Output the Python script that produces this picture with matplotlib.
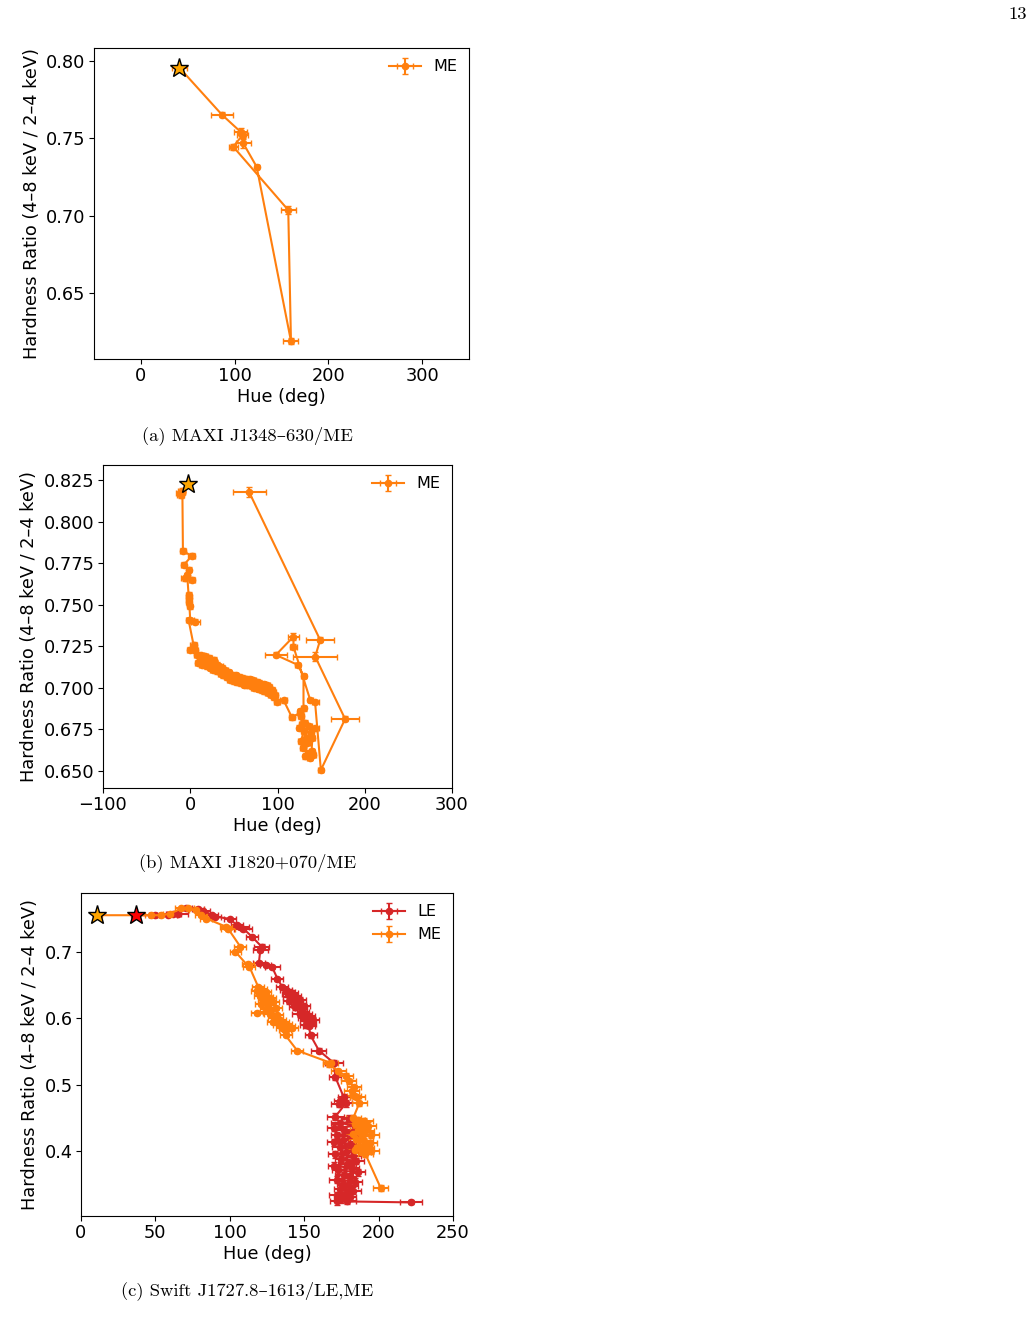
import matplotlib

matplotlib.use("Agg")
import matplotlib.pyplot as plt

# (a) MAXI J1348-630 / ME
a_hue = [41, 86.4, 106.7, 108.5, 98.5, 157.2, 160.1, 123.5, 109.2]
a_hr = [0.7957, 0.7653, 0.7540, 0.7521, 0.7446, 0.7036, 0.6189, 0.7316, 0.7468]
a_hue_err = [8, 11.5, 7, 6, 5, 8, 8, 2, 8]
a_hr_err = [0.0015, 0.0015, 0.0025, 0.002, 0.002, 0.0025, 0.002, 0.001, 0.003]

# (b) MAXI J1820+070 / ME
b_hue = [-3, -10, -12, -9, -11, -9, -8.4, 1.9, -7.6, -1.9, -5.7, 1.9, -3.5,
         -1.9, -1.9, -0.8, -1.5, 0, 5.7, -2, 3.8, 0,
         7.6, 5, 11, 9, 12, 15.3, 13, 17, 19.1, 21, 22, 24.8, 23, 27, 26, 30.5,
         28, 31, 33, 35, 36.3, 38, 40, 42, 44, 45, 47.8, 50, 52, 53.5, 56, 58,
         59.2, 62, 64, 65, 68, 70.7, 72, 73, 76.4, 78, 79, 82.1, 84, 85, 87.9,
         89, 90, 93.6, 92, 95, 96, 97.4, 99.3, 106.9,
         116.5, 126, 128, 125, 130, 127, 133, 129, 134, 132, 137, 135.5, 141.2,
         139, 140, 138, 143.2, 136, 131, 127, 126, 129.8,
         129.8, 123.3, 98.1, 118.3, 118.3, 137.5, 143, 149.7, 177.5, 143.2,
         148.9, 67.6]
b_hr = [0.8225, 0.8185, 0.8170, 0.8180, 0.8160, 0.8175, 0.7823, 0.7793, 0.7739,
        0.7709, 0.7660, 0.7649, 0.7680, 0.7558, 0.7518, 0.7490, 0.7540, 0.7408,
        0.7398, 0.7410, 0.7258, 0.7228,
        0.7198, 0.7225, 0.7170, 0.7150, 0.7195, 0.7175, 0.7140, 0.7190, 0.7130,
        0.7180, 0.7150, 0.7160, 0.7120, 0.7170, 0.7110, 0.7140, 0.7150, 0.7100,
        0.7130, 0.7085, 0.7120, 0.7075, 0.7105, 0.7065, 0.7095, 0.7050, 0.7080,
        0.7040, 0.7075, 0.7035, 0.7068, 0.7028, 0.7062, 0.7020, 0.7055, 0.7015,
        0.7052, 0.7010, 0.7045, 0.7000, 0.7038, 0.6995, 0.7030, 0.6985, 0.7022,
        0.6980, 0.7015, 0.6970, 0.7008, 0.6990, 0.6960, 0.6975, 0.6945, 0.6957,
        0.6917, 0.6927,
        0.6823, 0.6850, 0.6780, 0.6760, 0.6740, 0.6680, 0.6700, 0.6640, 0.6670,
        0.6590, 0.6580, 0.6607, 0.6597, 0.6620, 0.6700, 0.6730, 0.6757, 0.6770,
        0.6790, 0.6830, 0.6860, 0.6877,
        0.7072, 0.7138, 0.7198, 0.7308, 0.7248, 0.6927, 0.6917, 0.6506, 0.6813,
        0.7188, 0.7288, 0.8176]
b_hue_err = [3, 4, 4, 3, 4, 3, 3, 4, 3, 3, 5, 3, 3, 3, 3, 3, 3, 4, 5, 3, 4, 4,
             3, 4, 3, 3, 4, 4, 3, 3, 3, 4, 3, 4, 3, 3, 3, 3, 3, 3, 4, 3, 3, 3,
             3, 3, 3, 3, 3, 3, 3, 3, 3, 3, 3, 3, 3, 3, 3, 3, 3, 3, 3, 3, 3, 3,
             3, 3, 3, 3, 4, 3, 3, 3, 3, 3, 3, 4,
             3, 3, 3, 3, 3, 3, 3, 3, 3, 3, 3, 3, 3, 3, 3, 3, 4, 3, 3, 3, 3, 3,
             3, 3, 12.8, 6, 4, 3, 4, 3, 15.7, 25, 16.4, 19]
b_hr_err = [0.001, 0.0015, 0.0015, 0.001, 0.002, 0.001, 0.0015, 0.0015, 0.0015,
            0.0015, 0.0015, 0.0015, 0.001, 0.002, 0.002, 0.0015, 0.0015, 0.0015,
            0.0015, 0.001, 0.0015, 0.0015,
            0.0015, 0.0015, 0.0015, 0.0015, 0.0015, 0.0015, 0.0015, 0.0015,
            0.0015, 0.0015, 0.0015, 0.0015, 0.0015, 0.0015, 0.0015, 0.0015,
            0.0015, 0.0015, 0.0015, 0.0015, 0.0015, 0.0015, 0.0015, 0.0015,
            0.0015, 0.0015, 0.0015, 0.0015, 0.0015, 0.0015, 0.0015, 0.0015,
            0.0015, 0.0015, 0.0015, 0.0015, 0.0015, 0.0015, 0.0015, 0.0015,
            0.0015, 0.0015, 0.0015, 0.0015, 0.0015, 0.0015, 0.0015, 0.0015,
            0.0015, 0.0015, 0.0015, 0.0015, 0.0015, 0.0015, 0.0015, 0.0015,
            0.0015, 0.0015, 0.0015, 0.0015, 0.0015, 0.0015, 0.0015, 0.0015,
            0.0015, 0.0015, 0.0015, 0.0015, 0.0015, 0.0015, 0.0015, 0.0015,
            0.0015, 0.0015, 0.0015, 0.0015, 0.0015, 0.0015,
            0.001, 0.001, 0.0015, 0.002, 0.0015, 0.001, 0.001, 0.001, 0.0015,
            0.0025, 0.0015, 0.003]

# (c) Swift J1727.8-1613 / LE
c_le_hue = [36.9, 50, 58.3, 62, 65, 70.7, 78.6, 82, 88, 90, 100, 105, 106.8,
            109, 115, 121.4, 120.5, 119.5, 124, 128.5, 132, 135.2,
            137.6, 140, 139, 142, 141, 144, 143, 140, 145, 147, 146, 144, 148,
            150, 149, 147, 151, 153, 150, 152, 155.7, 154, 151, 153,
            154.3, 159.9, 169.8, 171, 176.6, 174, 173.2, 178,
            171, 180, 184, 174, 186, 170, 177, 183, 172, 185, 176, 170, 181,
            174, 187, 178, 171, 183, 175, 185, 179, 170, 182, 173, 186, 177,
            181, 172, 184, 176, 180, 174, 183, 178, 172, 181, 175, 179, 172.3,
            221.6]
c_le_hr = [0.7555, 0.7555, 0.7560, 0.7575, 0.7580, 0.7660, 0.7650, 0.7626,
           0.7560, 0.7535, 0.7500, 0.7400, 0.7380, 0.7354, 0.7230, 0.7080,
           0.7030, 0.6830, 0.6810, 0.6770, 0.6600, 0.6475,
           0.6420, 0.6400, 0.6360, 0.6380, 0.6320, 0.6340, 0.6280, 0.6260,
           0.6240, 0.6280, 0.6200, 0.6170, 0.6150, 0.6180, 0.6100, 0.6060,
           0.6060, 0.6030, 0.6000, 0.5960, 0.5980, 0.5920, 0.5900, 0.5890,
           0.5742, 0.5515, 0.5330, 0.5110, 0.4810, 0.4760, 0.4707, 0.4720,
           0.4520, 0.4490, 0.4450, 0.4420, 0.4380, 0.4350, 0.4310, 0.4280,
           0.4240, 0.4210, 0.4170, 0.4130, 0.4100, 0.4060, 0.4030, 0.3990,
           0.3950, 0.3920, 0.3880, 0.3850, 0.3810, 0.3780, 0.3740, 0.3710,
           0.3680, 0.3640, 0.3610, 0.3570, 0.3540, 0.3500, 0.3470, 0.3430,
           0.3400, 0.3360, 0.3330, 0.3300, 0.3270, 0.3250, 0.3242, 0.3225]
c_le_hue_err = [3, 4, 6, 5, 7, 4, 4, 5, 4, 4, 4, 4, 6, 6, 4, 5, 5, 4, 4, 5, 4,
                4, 4, 4, 4, 4, 5, 4, 4, 4, 4, 4, 5, 4, 4, 4, 4, 5, 4, 4, 4, 5,
                4, 4, 4, 4, 4, 5, 6, 4, 4, 4, 5, 4,
                6, 5, 5, 6, 4, 5, 6, 5, 4, 6, 5, 5, 4, 5, 6, 4, 5, 5, 4, 5, 6,
                4, 5, 4, 5, 6, 4, 5, 5, 4, 6, 4, 5, 4, 5, 4, 5, 6, 5, 7.3]
c_le_hr_err = [0.002, 0.002, 0.002, 0.002, 0.002, 0.002, 0.003, 0.003, 0.002,
               0.002, 0.002, 0.003, 0.003, 0.003, 0.003, 0.004, 0.003, 0.003,
               0.003, 0.003, 0.003, 0.003,
               0.004, 0.004, 0.004, 0.004, 0.004, 0.004, 0.004, 0.004, 0.004,
               0.004, 0.004, 0.004, 0.004, 0.004, 0.004, 0.004, 0.004, 0.004,
               0.004, 0.004, 0.004, 0.004, 0.004, 0.004,
               0.004, 0.004, 0.004, 0.004, 0.005, 0.005, 0.005, 0.005,
               0.005, 0.005, 0.005, 0.005, 0.005, 0.005, 0.005, 0.005, 0.005,
               0.005, 0.005, 0.005, 0.005, 0.005, 0.005, 0.005, 0.005, 0.005,
               0.005, 0.005, 0.005, 0.005, 0.005, 0.005, 0.005, 0.005, 0.005,
               0.005, 0.005, 0.005, 0.005, 0.005, 0.005, 0.005, 0.005, 0.005,
               0.005, 0.005, 0.005, 0.003]

# (c) Swift J1727.8-1613 / ME
c_me_hue = [10.8, 47, 53.9, 60, 67.4, 71.9, 77.5, 80.9, 84.2, 97.7, 98.8,
            107.1, 103.8, 112.7, 112.3, 119, 121, 118.4, 122, 124, 120, 125,
            123, 127, 121, 126, 129, 124, 128, 131, 118.5, 127, 132, 130, 134,
            129, 136, 133, 138, 135, 140, 137, 142, 137.5, 145.3, 167.8, 166.4,
            173, 177.9, 180, 183.5, 182, 185.6, 183.5, 187, 183, 186, 190, 184,
            188, 193, 186, 191, 183, 189, 195, 185, 190, 194, 187, 192, 184,
            189, 195, 191, 201.4]
c_me_hr = [0.7555, 0.7555, 0.7555, 0.7580, 0.7657, 0.7667, 0.7630, 0.7556,
           0.7505, 0.7380, 0.7354, 0.7080, 0.7005, 0.6777, 0.6823, 0.6480,
           0.6450, 0.6410, 0.6380, 0.6400, 0.6340, 0.6320, 0.6280, 0.6300,
           0.6220, 0.6200, 0.6240, 0.6140, 0.6120, 0.6150, 0.6080, 0.6060,
           0.6050, 0.6000, 0.5980, 0.5940, 0.5950, 0.5900, 0.5920, 0.5860,
           0.5880, 0.5820, 0.5850, 0.5742, 0.5515, 0.5329, 0.5310, 0.5200,
           0.5136, 0.5050, 0.4959, 0.4900, 0.4808, 0.4833, 0.4720, 0.4500,
           0.4470, 0.4450, 0.4400, 0.4370, 0.4380, 0.4320, 0.4300, 0.4260,
           0.4230, 0.4240, 0.4180, 0.4150, 0.4120, 0.4080, 0.4050, 0.4020,
           0.3990, 0.4000, 0.3960, 0.3444]
c_me_hue_err = [3, 4, 5, 5, 4, 4, 5, 4, 4, 4, 5, 4, 4, 4, 4, 4, 4, 4, 4, 4, 4,
                4, 4, 4, 4, 4, 4, 4, 4, 4, 4, 4, 4, 4, 4, 4, 4, 4, 4, 4, 4, 4,
                4, 4, 4, 5, 4, 5, 5, 5, 5, 5, 5, 5, 5, 5, 5, 6, 5, 5, 5, 5, 6,
                5, 5, 5, 5, 6, 5, 5, 5, 5, 6, 5, 5, 5]
c_me_hr_err = [0.002, 0.002, 0.002, 0.002, 0.002, 0.002, 0.002, 0.003, 0.003,
               0.003, 0.003, 0.003, 0.003, 0.003, 0.003, 0.003, 0.003, 0.003,
               0.003, 0.003, 0.003, 0.003, 0.003, 0.003, 0.003, 0.003, 0.003,
               0.003, 0.003, 0.003, 0.003, 0.003, 0.003, 0.003, 0.003, 0.003,
               0.003, 0.003, 0.003, 0.003, 0.003, 0.003, 0.003, 0.003, 0.003,
               0.004, 0.004, 0.004, 0.004, 0.004, 0.004, 0.004, 0.004, 0.004,
               0.004, 0.005, 0.005, 0.005, 0.005, 0.005, 0.005, 0.005, 0.005,
               0.005, 0.005, 0.005, 0.005, 0.005, 0.005, 0.005, 0.005, 0.005,
               0.005, 0.005, 0.005, 0.004]

ORANGE = "#ff7f0e"
RED = "#d62728"
TICK_FS = 12.8
CAP_FONT = ["cmr10", "DejaVu Serif"]
W, H = 1033.0, 1323.0

fig = plt.figure(figsize=(10.33, 13.23), dpi=100)


def add_ax(left, top, right, bottom):
    # axes box given in pixels of the page
    return fig.add_axes([left / W, 1 - bottom / H, (right - left) / W, (bottom - top) / H])


def eb(ax, x, y, xe, ye, color, label):
    ax.errorbar(x, y, xerr=xe, yerr=ye, fmt="-o", color=color, ms=4.5, lw=1.5,
                elinewidth=1.5, capsize=2, ecolor=color, label=label)


def star(ax, x, y, face):
    ax.plot(x, y, marker="*", ms=14, mfc=face, mec="black", mew=1.0,
            ls="none", zorder=10)


def style(ax):
    ax.tick_params(labelsize=TICK_FS, pad=2.5)
    ax.set_xlabel("Hue (deg)", fontsize=TICK_FS, labelpad=2)
    ax.set_ylabel("Hardness Ratio (4–8 keV / 2–4 keV)", fontsize=TICK_FS)
    ax.legend(loc="upper right", frameon=False, fontsize=11.5, borderaxespad=0.3)


# panel a
ax1 = add_ax(94, 48, 469, 359)
eb(ax1, a_hue, a_hr, a_hue_err, a_hr_err, ORANGE, "ME")
star(ax1, a_hue[0], a_hr[0], "#ffa500")
ax1.set_xlim(-50, 350)
ax1.set_ylim(0.6073, 0.8084)
style(ax1)

# panel b
ax2 = add_ax(103, 465, 452, 788)
eb(ax2, b_hue, b_hr, b_hue_err, b_hr_err, ORANGE, "ME")
star(ax2, b_hue[0], b_hr[0], "#ffa500")
ax2.set_xlim(-100, 300)
ax2.set_ylim(0.6398, 0.834)
style(ax2)

# panel c
ax3 = add_ax(81, 893, 453, 1216)
eb(ax3, c_le_hue, c_le_hr, c_le_hue_err, c_le_hr_err, RED, "LE")
eb(ax3, c_me_hue, c_me_hr, c_me_hue_err, c_me_hr_err, ORANGE, "ME")
star(ax3, c_me_hue[0], c_me_hr[0], "#ffa500")
star(ax3, c_le_hue[0], c_le_hr[0], "red")
ax3.set_xlim(0, 250)
ax3.set_ylim(0.302, 0.789)
style(ax3)

# captions
fig.text(247 / W, 1 - 436 / H, "(a) MAXI J1348–630/ME", ha="center", va="center",
         fontsize=13.4, family=CAP_FONT)
fig.text(248 / W, 1 - 863 / H, "(b) MAXI J1820+070/ME", ha="center", va="center",
         fontsize=13.4, family=CAP_FONT)
fig.text(247 / W, 1 - 1291 / H, "(c) Swift J1727.8–1613/LE,ME", ha="center",
         va="center", fontsize=13.4, family=CAP_FONT)
fig.text(1027 / W, 1 - 14 / H, "13", ha="right", va="center", fontsize=13.4,
         family=CAP_FONT)

fig.savefig("out.png", dpi=100)
